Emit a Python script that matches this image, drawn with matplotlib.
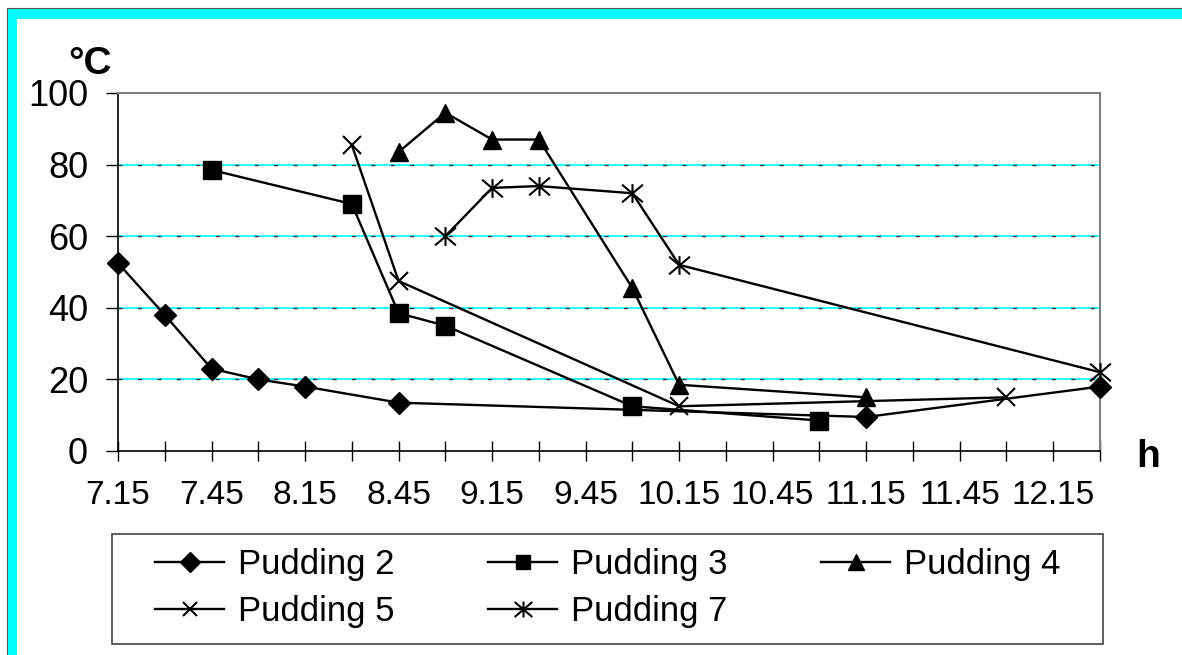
import numpy as np
import matplotlib
matplotlib.use('Agg')
import matplotlib.pyplot as plt
from matplotlib.path import Path
from matplotlib.patches import Rectangle

plt.rcParams['font.family'] = ['Liberation Sans', 'DejaVu Sans']

# time of day, every quarter hour
times = ['7.15', '7.30', '7.45', '8.00', '8.15', '8.30', '8.45', '9.00', '9.15',
         '9.30', '9.45', '10.00', '10.15', '10.30', '10.45', '11.00', '11.15',
         '11.30', '11.45', '12.00', '12.15', '12.30']

p2_times = ['7.15', '7.30', '7.45', '8.00', '8.15', '8.45', '11.15', '12.30']
p2_vals = [52.5, 38, 23, 20, 18, 13.5, 9.5, 18]

p3_times = ['7.45', '8.30', '8.45', '9.00', '10.00', '11.00']
p3_vals = [78.5, 69, 38.5, 35, 12.5, 8.5]

p4_times = ['8.45', '9.00', '9.15', '9.30', '10.00', '10.15', '11.15']
p4_vals = [83.5, 94.5, 87, 87, 45.5, 18.5, 15]

p5_times = ['8.30', '8.45', '10.15', '12.00']
p5_vals = [85.5, 47.5, 12.5, 15]

p7_times = ['9.00', '9.15', '9.30', '10.00', '10.15', '12.30']
p7_vals = [60, 73.5, 74, 72, 52, 22]

# asterisk = x with a vertical bar
star = Path([(-1, -0.85), (1, 0.85), (-1, 0.85), (1, -0.85), (0, -0.9), (0, 0.9)],
            [Path.MOVETO, Path.LINETO, Path.MOVETO, Path.LINETO, Path.MOVETO, Path.LINETO])

W, H = 1182, 655
fig = plt.figure(figsize=(W / 100, H / 100), dpi=100)

# cyan frame round the chart
fig.add_artist(Rectangle((7 / W, -0.1), 1.2, (H - 8) / H + 0.1, transform=fig.transFigure,
                         facecolor='#00FFFF', edgecolor='#555555', lw=0.8, zorder=-2))
fig.add_artist(Rectangle((17 / W, -0.1), 1.2, (H - 19) / H + 0.1, transform=fig.transFigure,
                         facecolor='white', edgecolor='none', zorder=-1))

ax = fig.add_axes([118 / W, (H - 451) / H, (1100 - 118) / W, (451 - 93) / H])

series = [
    ('Pudding 2', p2_times, p2_vals, dict(marker='D', ms=11.5)),
    ('Pudding 3', p3_times, p3_vals, dict(marker='s', ms=12.5)),
    ('Pudding 4', p4_times, p4_vals, dict(marker='^', ms=13.5)),
    ('Pudding 5', p5_times, p5_vals, dict(marker='x', ms=12.5, mew=1.5)),
    ('Pudding 7', p7_times, p7_vals, dict(marker=star, ms=15, mew=1.5)),
]

handles = {}
for name, t, v, style in series:
    x = [times.index(s) for s in t]
    h, = ax.plot(x, v, color='black', lw=1.7, mfc='black', mec='black',
                 label=name, zorder=3, clip_on=False, **style)
    handles[name] = h

# gridlines: cyan with dark dashes on top
for yv in [20, 40, 60, 80]:
    ax.axhline(yv, color='#00FFFF', lw=1.2, zorder=1)
    ax.axhline(yv, color='#333333', lw=1.0, dashes=(3, 11), zorder=1.5)

ax.set_xlim(0, len(times) - 1)
ax.set_ylim(0, 100)
ax.set_yticks([0, 20, 40, 60, 80, 100])
ax.set_xticks(range(len(times)))
ax.set_xticklabels([s if i % 2 == 0 else '' for i, s in enumerate(times)])

ax.tick_params(axis='y', direction='out', length=8.6, width=1, labelsize=26, pad=13)
ax.tick_params(axis='x', direction='inout', length=14, width=1, labelsize=24, pad=14)

for side in ['top', 'right']:
    ax.spines[side].set_color('#808080')
    ax.spines[side].set_linewidth(1.5)
for side in ['left', 'bottom']:
    ax.spines[side].set_color('black')
    ax.spines[side].set_linewidth(1.2)

fig.text(90 / W, 1 - 64 / H, '°C', fontsize=28, fontweight='bold', ha='center', va='center')
fig.text(1148 / W, 1 - 457 / H, 'h', fontsize=28, fontweight='bold', ha='center', va='center')

# legend box drawn by hand, entries placed inside it
fig.add_artist(Rectangle((111.7 / W, 1 - 644 / H), (1103 - 111.7) / W, (644 - 534) / H,
                         transform=fig.transFigure, facecolor='white',
                         edgecolor='#444444', lw=1.2, zorder=4))
order = ['Pudding 2', 'Pudding 5', 'Pudding 3', 'Pudding 7', 'Pudding 4']
leg = fig.legend([handles[n] for n in order], order, ncol=3, loc='upper left',
                 bbox_to_anchor=(155 / W, 1 - 548 / H),
                 fontsize=25, handlelength=2.0, handletextpad=0.4, labelspacing=0.415,
                 columnspacing=2.68, borderpad=0, borderaxespad=0, markerscale=0.85,
                 frameon=False)
leg.set_zorder(5)

fig.savefig('out.png', dpi=100)
